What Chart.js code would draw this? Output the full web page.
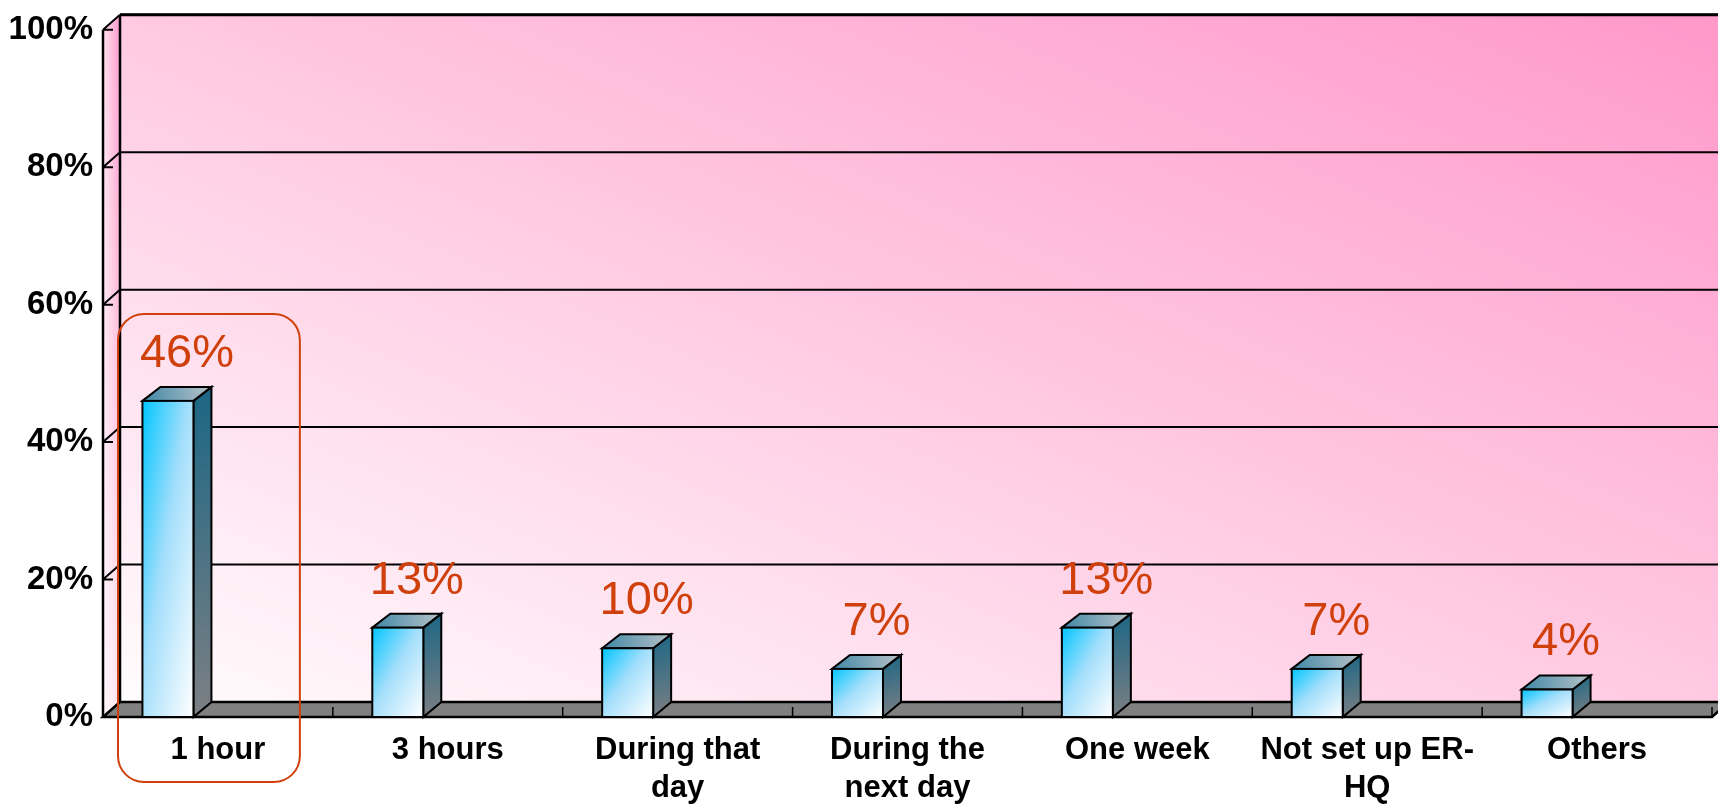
<!DOCTYPE html>
<html>
<head>
<meta charset="utf-8">
<script src="https://cdn.jsdelivr.net/npm/chart.js@4.4.1/dist/chart.umd.min.js"></script>
<style>
  html, body { margin: 0; padding: 0; background: #ffffff; }
  #wrap { width: 1718px; height: 809px; }
</style>
</head>
<body>
<div id="wrap"><canvas id="c" width="1718" height="809"></canvas></div>
<script>
// Time taken to set up the emergency response HQ (share of respondents)
const categories = [
  ['1 hour'],
  ['3 hours'],
  ['During that', 'day'],
  ['During the', 'next day'],
  ['One week'],
  ['Not set up ER-', 'HQ'],
  ['Others']
];
const shares = [46, 13, 10, 7, 13, 7, 4];
const yTickValues = [0, 20, 40, 60, 80, 100];
const highlighted = 0; // category framed by the rounded box

// depth of the box (walls/floor) and of the bars
const WALL_DX = 17, WALL_DY = 15;
const BAR_DX = 18, BAR_DY = 14;
const LABEL_RED = '#D0400C';

function diagGradient(ctx, x0, y0, w, h, stops) {
  // gradient whose isolines run from top-right to bottom-left of the box
  const k = 2 * w * h / (h * h + w * w);
  const g = ctx.createLinearGradient(x0, y0, x0 + h * k, y0 + w * k);
  stops.forEach(([t, c]) => g.addColorStop(t, c));
  return g;
}

const room3d = {
  id: 'room3d',
  beforeDatasetsDraw(chart) {
    const { ctx, chartArea: a, scales: { x, y } } = chart;
    const L = a.left, R = a.right;
    const f0 = y.getPixelForValue(0), f100 = y.getPixelForValue(100);
    const bL = L + WALL_DX, bR = R + WALL_DX;
    const b0 = f0 - WALL_DY, b100 = f100 - WALL_DY;
    ctx.save();

    // back wall
    const bw = bR - bL, bh = b0 - b100;
    const k = 2 * bw * bh / (bw * bw + bh * bh);
    const g = ctx.createLinearGradient(bL, b0, bL + bh * k, b0 - bw * k);
    g.addColorStop(0, '#FFFCFD');
    g.addColorStop(0.5, '#FFC9E2');
    g.addColorStop(1, '#FF98CA');
    ctx.fillStyle = g;
    ctx.fillRect(bL, b100, bw + 20, bh);

    // left side wall
    ctx.beginPath();
    ctx.moveTo(L, f100); ctx.lineTo(bL, b100); ctx.lineTo(bL, b0); ctx.lineTo(L, f0); ctx.closePath();
    const gl = ctx.createLinearGradient(L, 0, bL, 0);
    gl.addColorStop(0, '#FFE4F0');
    gl.addColorStop(1, '#FF9ACB');
    ctx.fillStyle = gl; ctx.fill();
    const gv = ctx.createLinearGradient(0, f100, 0, f0);
    gv.addColorStop(0, 'rgba(255,255,255,0)');
    gv.addColorStop(1, 'rgba(255,255,255,0.75)');
    ctx.fillStyle = gv; ctx.fill();

    // grid lines on the back wall and left wall
    ctx.strokeStyle = '#000'; ctx.lineWidth = 2;
    yTickValues.forEach(v => {
      const fy = y.getPixelForValue(v), by = fy - WALL_DY;
      ctx.beginPath();
      if (v > 0) {
        ctx.moveTo(bL, by); ctx.lineTo(bR + 20, by);
      }
      ctx.moveTo(L, fy); ctx.lineTo(bL, by);
      ctx.moveTo(L, fy); ctx.lineTo(L + 10, fy);
      ctx.stroke();
    });
    // heavier top edge
    ctx.lineWidth = 3;
    ctx.beginPath(); ctx.moveTo(bL, b100); ctx.lineTo(bR + 20, b100); ctx.stroke();

    // wall edges
    ctx.lineWidth = 2.5;
    ctx.beginPath();
    ctx.moveTo(L, f100); ctx.lineTo(L, f0);
    ctx.moveTo(bL, b100); ctx.lineTo(bL, b0);
    ctx.stroke();

    // floor slab
    ctx.beginPath();
    ctx.moveTo(L, f0); ctx.lineTo(R, f0); ctx.lineTo(bR, b0); ctx.lineTo(bL, b0); ctx.closePath();
    ctx.fillStyle = '#808080'; ctx.fill();
    ctx.lineWidth = 2.5; ctx.stroke();

    // category separators on the floor edge
    ctx.lineWidth = 1.5;
    for (let i = 1; i <= categories.length; i++) {
      const px = i < categories.length
        ? (x.getPixelForValue(i - 1) + x.getPixelForValue(i)) / 2
        : R;
      ctx.beginPath(); ctx.moveTo(px, f0); ctx.lineTo(px, f0 - 10); ctx.stroke();
    }
    ctx.restore();
  },
  afterDatasetsDraw(chart) {
    const { ctx } = chart;
    const meta = chart.getDatasetMeta(0);
    ctx.save();
    ctx.lineWidth = 2;
    ctx.lineJoin = 'miter';
    ctx.strokeStyle = '#000';
    meta.data.forEach((el, i) => {
      const { x: cx, y: top, base, width } = el.getProps(['x', 'y', 'base', 'width'], true);
      const l = cx - width / 2, r = cx + width / 2, h = base - top;

      // right side face
      ctx.beginPath();
      ctx.moveTo(r, top); ctx.lineTo(r + BAR_DX, top - BAR_DY);
      ctx.lineTo(r + BAR_DX, base - WALL_DY); ctx.lineTo(r, base); ctx.closePath();
      const gs = ctx.createLinearGradient(r, top - BAR_DY, r + BAR_DX, base);
      gs.addColorStop(0, '#1B6684');
      gs.addColorStop(1, '#7D8084');
      ctx.fillStyle = gs; ctx.fill(); ctx.stroke();

      // top face
      ctx.beginPath();
      ctx.moveTo(l, top); ctx.lineTo(l + BAR_DX, top - BAR_DY);
      ctx.lineTo(r + BAR_DX, top - BAR_DY); ctx.lineTo(r, top); ctx.closePath();
      const gt = ctx.createLinearGradient(l, top, r + BAR_DX, top - BAR_DY);
      gt.addColorStop(0, '#3F87A6');
      gt.addColorStop(1, '#B9C3C9');
      ctx.fillStyle = gt; ctx.fill(); ctx.stroke();

      // front face
      ctx.fillStyle = diagGradient(ctx, l, top, width, h, [[0, '#00C6FF'], [0.45, '#A2DEFB'], [1, '#FFFFFF']]);
      ctx.fillRect(l, top, width, h);
      ctx.strokeRect(l, top, width, h);

      // value label
      ctx.fillStyle = LABEL_RED;
      ctx.font = '47px "Liberation Sans", Arial, sans-serif';
      ctx.textAlign = 'center';
      ctx.textBaseline = 'middle';
      ctx.fillText(shares[i] + '%', cx + 19, top - BAR_DY - 33);
    });
    ctx.restore();
  },
  afterDraw(chart) {
    const { ctx, chartArea: a, scales: { x } } = chart;
    const el = chart.getDatasetMeta(0).data[highlighted];
    const cc = x.getPixelForValue(highlighted);
    const half = (x.getPixelForValue(1) - x.getPixelForValue(0)) / 2;
    const left = cc - half + 15, right = cc + half - 33;
    const top = el.y - BAR_DY - 73, bottom = a.bottom + 65;
    ctx.save();
    ctx.strokeStyle = LABEL_RED;
    ctx.lineWidth = 2;
    ctx.beginPath();
    ctx.roundRect(left, top, right - left, bottom - top, 26);
    ctx.stroke();
    ctx.restore();
  }
};

new Chart(document.getElementById('c'), {
  type: 'bar',
  data: {
    labels: categories,
    datasets: [
      { data: shares, backgroundColor: 'rgba(0,0,0,0)', borderWidth: 0,
        categoryPercentage: 0.87, barPercentage: 0.51 },
      { data: shares.map(() => null), backgroundColor: 'rgba(0,0,0,0)', borderWidth: 0,
        categoryPercentage: 0.87, barPercentage: 0.51 }
    ]
  },
  options: {
    responsive: false,
    animation: false,
    layout: { padding: { top: 26, right: 6, bottom: 0, left: 0 } },
    plugins: { legend: { display: false }, tooltip: { enabled: false } },
    scales: {
      x: {
        grid: { display: false, drawTicks: false },
        border: { display: false },
        afterFit: s => { s.height = 92; },
        ticks: {
          autoSkip: false, maxRotation: 0, minRotation: 0, padding: 14, color: '#000',
          font: { family: '"Liberation Sans", Arial, sans-serif', size: 31, weight: 'bold', lineHeight: 1.24 }
        }
      },
      y: {
        min: 0, max: 100,
        grid: { display: false, drawTicks: false },
        border: { display: false },
        afterFit: s => { s.width = 103; },
        afterBuildTicks: s => { s.ticks = yTickValues.map(v => ({ value: v })); },
        ticks: {
          padding: 10, color: '#000',
          callback: v => v + '%',
          font: { family: '"Liberation Sans", Arial, sans-serif', size: 33, weight: 'bold', lineHeight: 1.2 }
        }
      }
    }
  },
  plugins: [room3d]
});
</script>
</body>
</html>
